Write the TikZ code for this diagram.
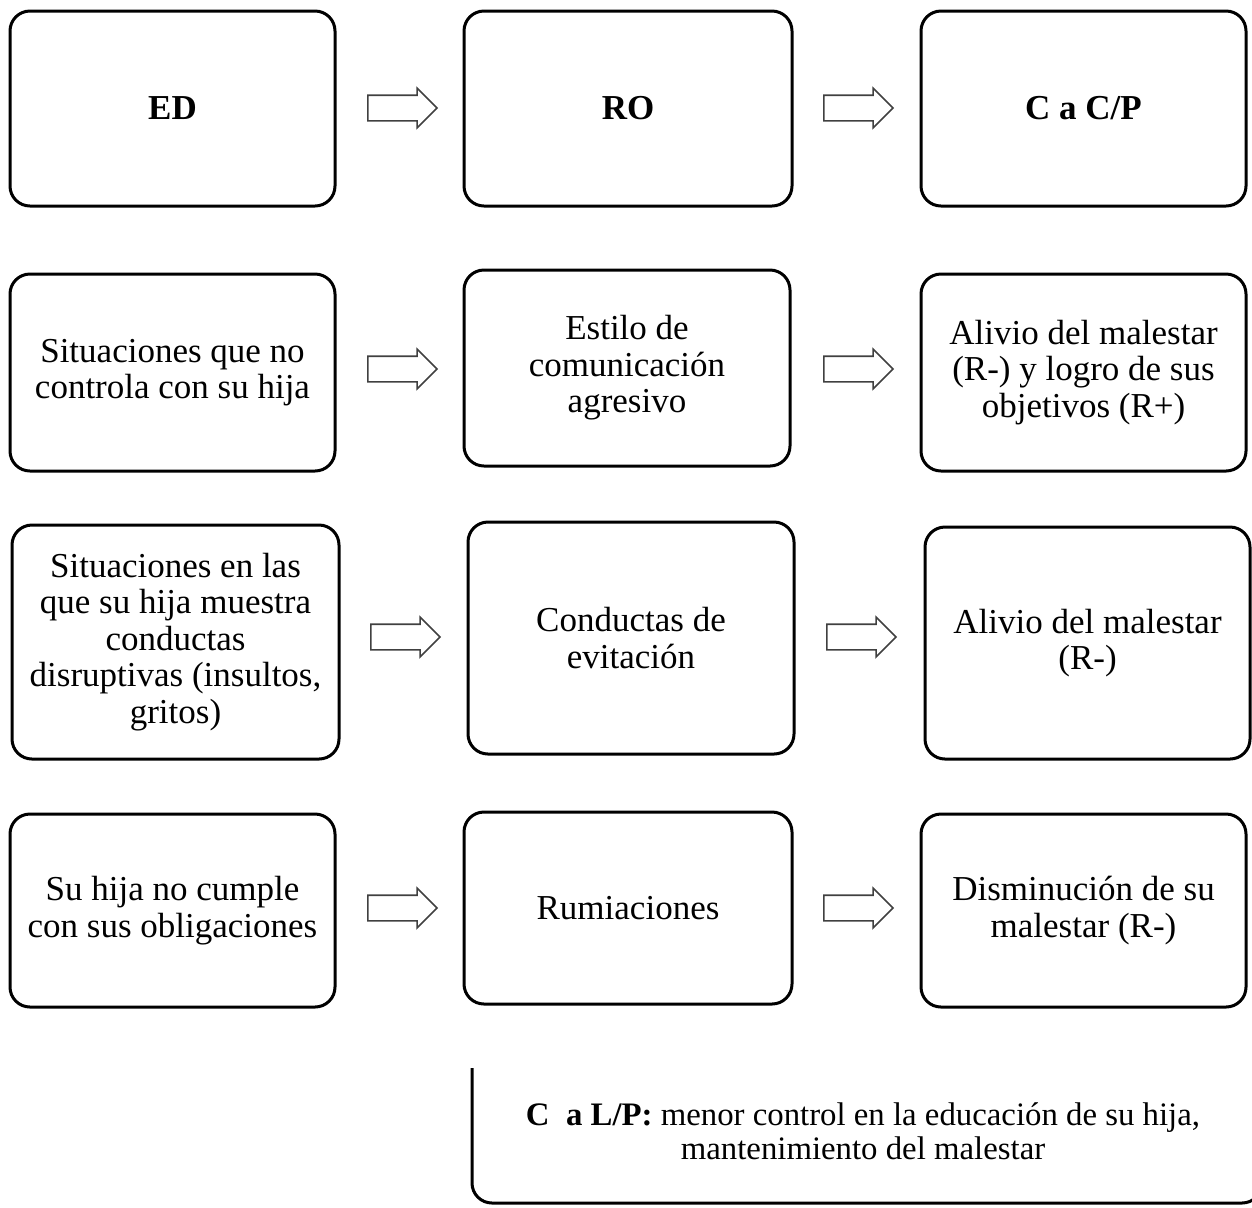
\documentclass[tikz,border=0pt]{standalone}
\usepackage{fontspec}
\setmainfont{Liberation Serif}
\usepackage{tikz}
\usetikzlibrary{shapes.arrows, positioning, calc}

\tikzset{
  caja/.style={draw, line width=1.5pt, rounded corners=10pt, minimum width=162.5pt, align=center, inner sep=2pt},
  flecha/.style={single arrow, draw=black!75, line width=0.8pt, minimum height=34.5pt, inner xsep=0pt, inner ysep=6pt, single arrow head extend=3.5pt, single arrow tip angle=90}
}

\begin{document}
\begin{tikzpicture}[x=0.5pt, y=-0.5pt, font=\fontsize{17.5}{18.2}\selectfont]
\clip (0,0) rectangle (1252,1207);

% Cabecera
\node[caja, minimum height=97.5pt] (ed) at (172.5,108.5) {\textbf{ED}};
\node[caja, minimum height=97.5pt, minimum width=164pt] (ro) at (628,108.5) {\textbf{RO}};
\node[caja, minimum height=97.5pt] (cc) at (1083.5,108.5) {\textbf{C a C/P}};
\node[flecha] (f11) at (396,108) {};
\node[flecha] (f12) at (852,108) {};

% Fila 1
\node[caja, minimum height=98.5pt] (ed1) at (172.5,372.5) {Situaciones que no\\controla con su hija};
\node[caja, minimum height=98pt, minimum width=163pt] (ro1) at (627,368) {Estilo de\\comunicación\\agresivo};
\node[caja, minimum height=98.5pt] (cc1) at (1083.5,372.5) {Alivio del malestar\\(R-) y logro de sus\\objetivos (R+)};
\node[flecha] (f21) at (396,369) {};
\node[flecha] (f22) at (852,369) {};

% Fila 2
\node[caja, minimum height=117pt, minimum width=163.5pt] (ed2) at (175.5,642) {Situaciones en las\\que su hija muestra\\conductas\\disruptivas (insultos,\\gritos)};
\node[caja, minimum height=116pt, minimum width=163pt] (ro2) at (631,638) {Conductas de\\evitación};
\node[caja, minimum height=116pt] (cc2) at (1087.5,643) {Alivio del malestar\\(R-)};
\node[flecha] (f31) at (399,637) {};
\node[flecha] (f32) at (855,637) {};

% Fila 3
\node[caja, minimum height=96.5pt] (ed3) at (172.5,910.5) {Su hija no cumple\\con sus obligaciones};
\node[caja, minimum height=96pt, minimum width=164pt] (ro3) at (628,908) {Rumiaciones};
\node[caja, minimum height=96.5pt] (cc3) at (1083.5,910.5) {Disminución de su\\malestar (R-)};
\node[flecha] (f41) at (396,908) {};
\node[flecha] (f42) at (852,908) {};

% Largo plazo
\draw[line width=1.5pt, rounded corners=10pt] (472,1068) -- (472,1203) -- (1262,1203) -- (1262,1068);
\node[align=center, font=\fontsize{16.4}{17}\selectfont] (clp) at (863,1131) {\textbf{C~~a L/P:} menor control en la educación de su hija,\\mantenimiento del malestar};
\end{tikzpicture}
\end{document}
